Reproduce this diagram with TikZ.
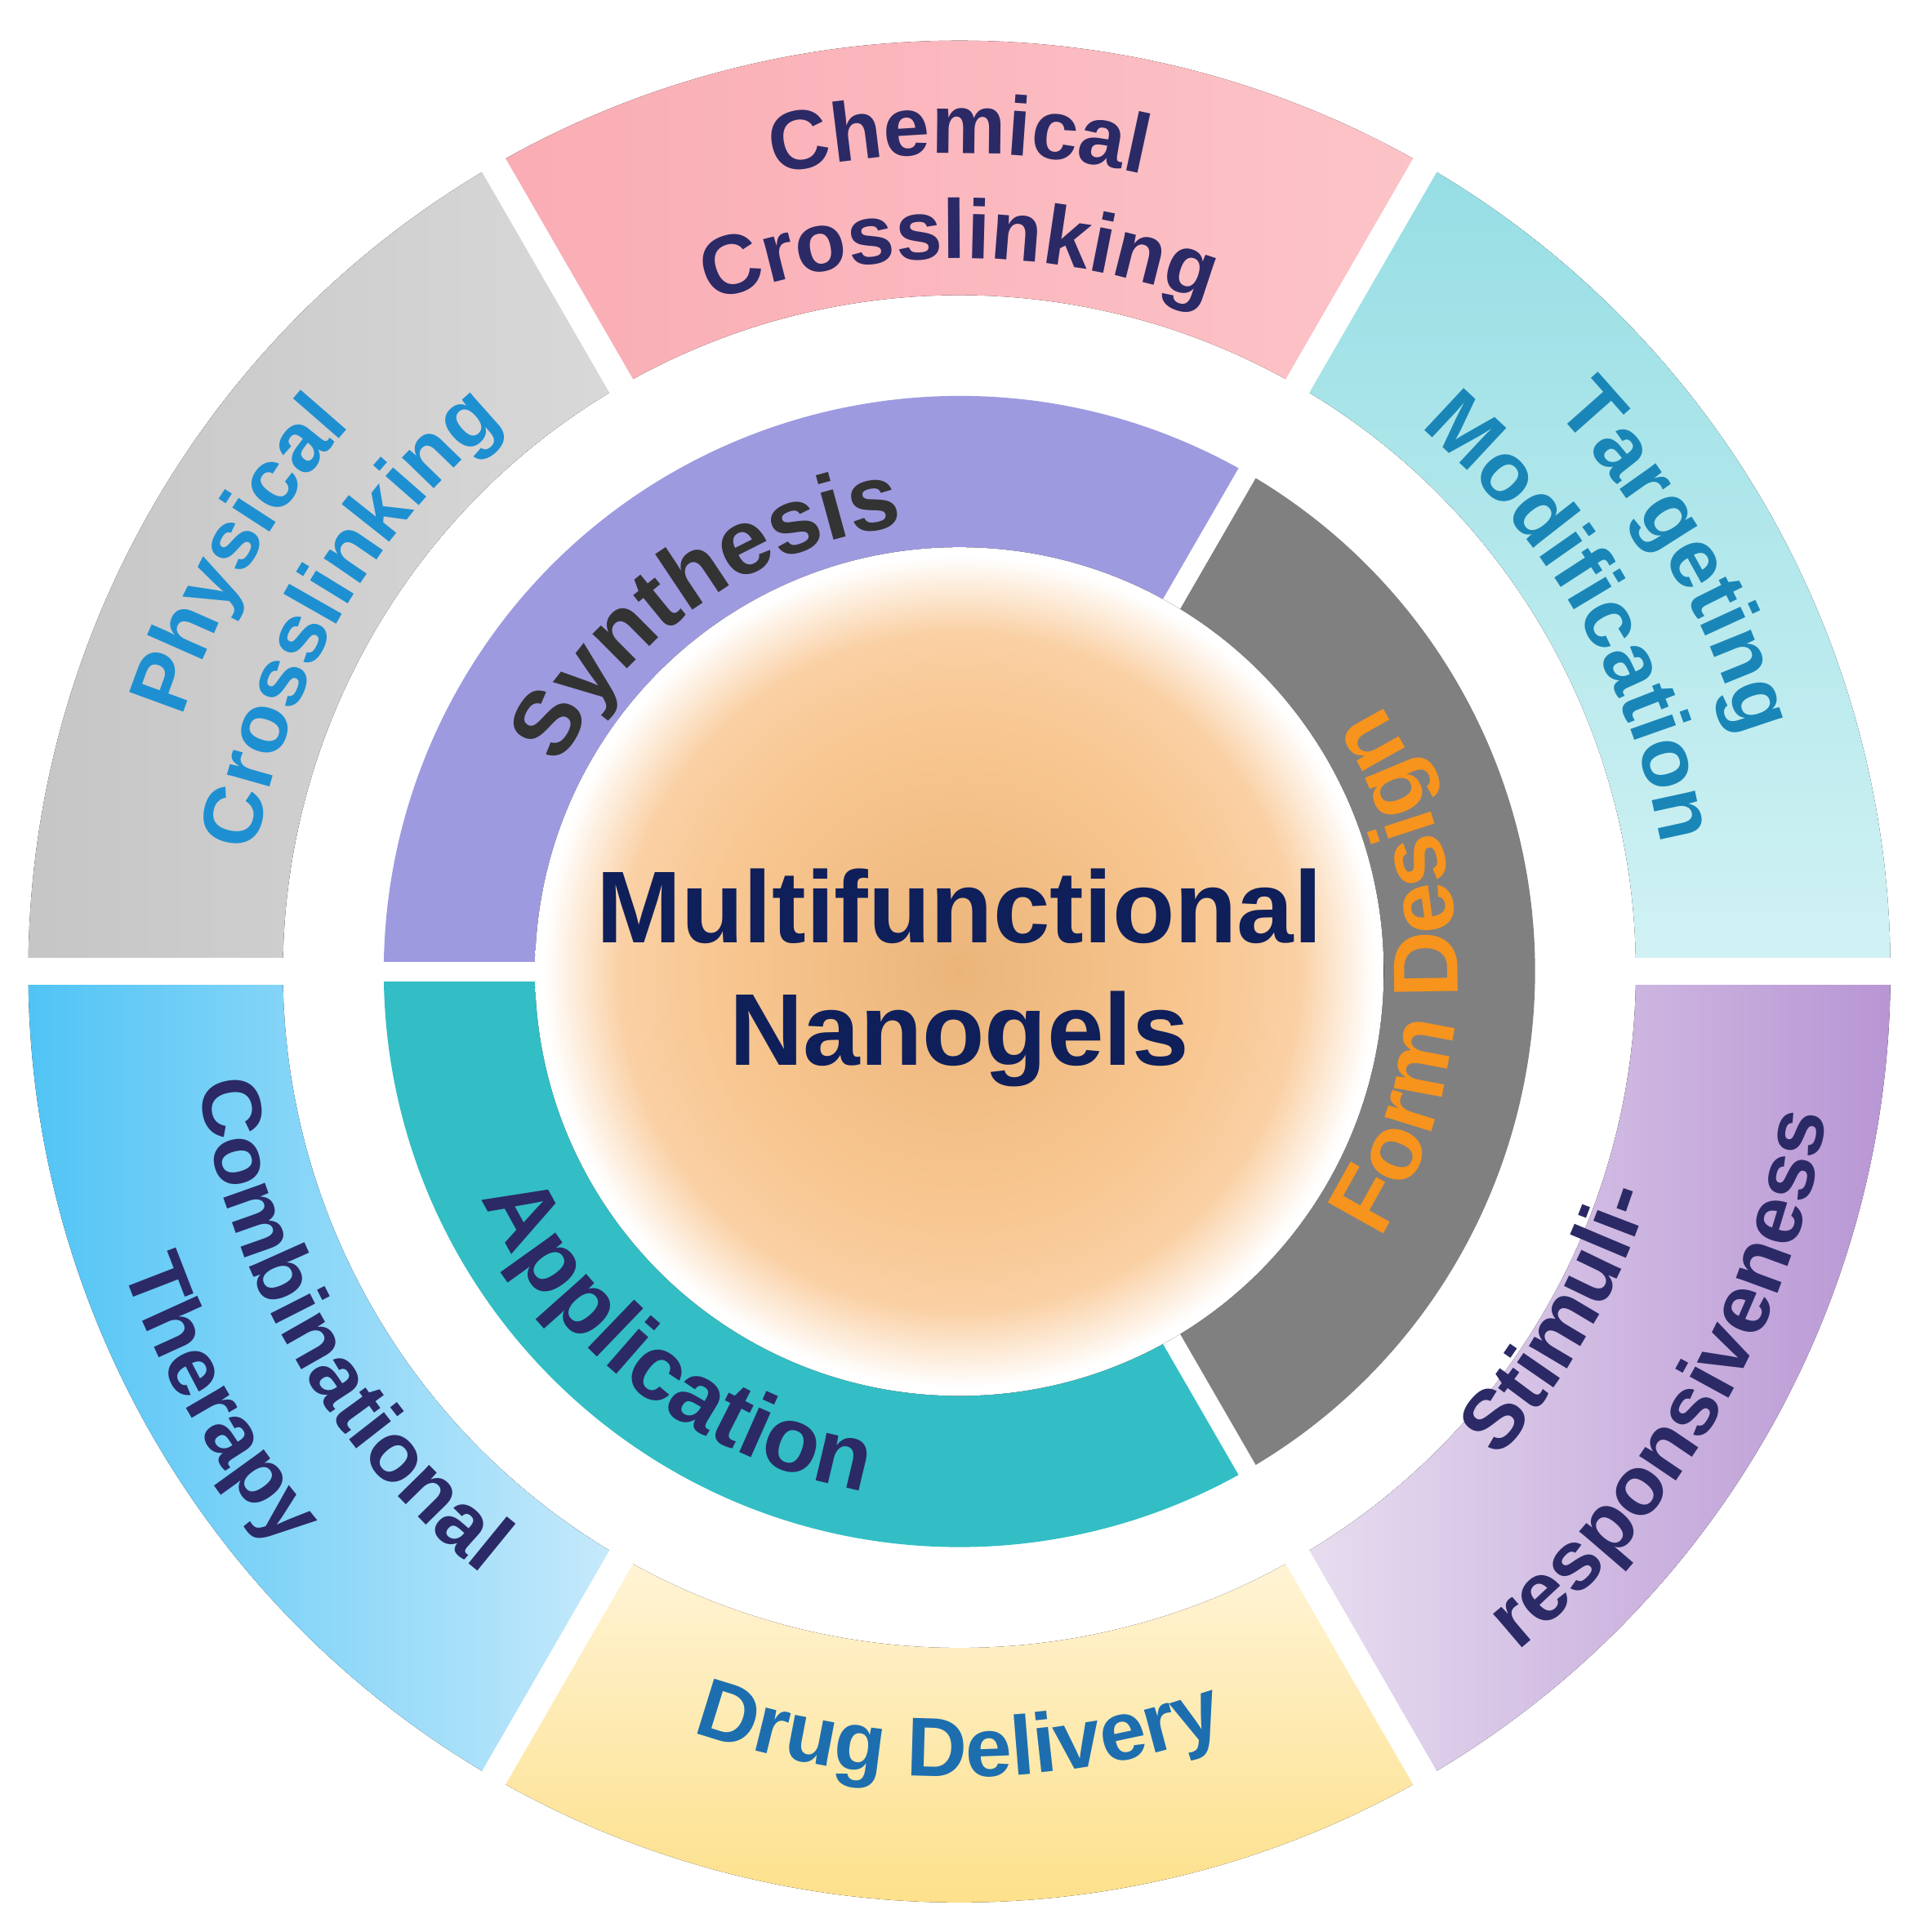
\documentclass[tikz,border=0pt]{standalone}
\usepackage{fontspec}
\setmainfont{Liberation Sans}
\usetikzlibrary{decorations.text}
\definecolor{navy}{HTML}{2B2A66}
\definecolor{pblue}{HTML}{1E90D2}
\definecolor{tblue}{HTML}{1A86B8}
\definecolor{dblue}{HTML}{1D6EAF}
\definecolor{ctext}{HTML}{0F1F5A}
\definecolor{orangeT}{HTML}{F7941D}
\definecolor{o1}{HTML}{EBB57A}
\definecolor{o2}{HTML}{F8C690}
\definecolor{o3}{HTML}{FAD0A4}
\pgfdeclareradialshading{ctr}{\pgfpoint{0bp}{0bp}}{color(0bp)=(o1); color(14bp)=(o2); color(20bp)=(o3); color(24.5bp)=(white); color(50bp)=(white)}
\newcommand\ringseg[4]{(#1:#3) arc[start angle=#1,end angle=#2,radius=#3] -- (#2:#4) arc[start angle=#2,end angle=#1,radius=#4] -- cycle}
\tikzset{
 cwlab/.style n args={4}{decorate,decoration={text along path,text align=center,
   text={|\bfseries\fontsize{#3}{#3}\selectfont\color{#4}|#2}}},
 gapO/.style={white,line width=22pt},
 gapI/.style={white,line width=16pt}
}
\begin{document}
\begin{tikzpicture}[x=1pt,y=1pt]
\useasboundingbox[fill=white] (-780,-781) rectangle (788,790);
% outer ring
\fill[left color=gray!45,right color=gray!30] \ringseg{120}{180}{757}{550};
\fill[left color={rgb,255:red,250;green,172;blue,180},right color={rgb,255:red,252;green,196;blue,200}] \ringseg{60}{120}{757}{550};
\fill[top color={rgb,255:red,150;green,222;blue,228},bottom color={rgb,255:red,210;green,242;blue,244}] \ringseg{0}{60}{757}{550};
\fill[left color={rgb,255:red,232;green,222;blue,240},right color={rgb,255:red,184;green,150;blue,212}] \ringseg{300}{360}{757}{550};
\fill[top color={rgb,255:red,255;green,244;blue,214},bottom color={rgb,255:red,253;green,222;blue,130}] \ringseg{240}{300}{757}{550};
\fill[left color={rgb,255:red,80;green,196;blue,245},right color={rgb,255:red,200;green,234;blue,251}] \ringseg{180}{240}{757}{550};
\foreach \a in {0,60,120,180,240,300} \draw[gapO] (\a:530) -- (\a:775);
% inner ring
\fill[color={rgb,255:red,158;green,154;blue,224}] \ringseg{60}{180}{468}{340};
\fill[color={rgb,255:red,128;green,128;blue,128}] \ringseg{-60}{60}{468}{340};
\fill[color={rgb,255:red,50;green,190;blue,196}] \ringseg{180}{300}{468}{340};
\foreach \a in {60,180,300} \draw[gapI] (\a:330) -- (\a:480);
% center
\fill[shading=ctr] (0,0) circle[radius=345];
\node[font=\bfseries\fontsize{83}{100}\selectfont,text=ctext,align=center] (title) at (0,-5) {Multifunctional\\Nanogels};
% outer labels (clockwise arcs: text outside)
\path[cwlab={}{Chemical}{68}{navy}] (125:665) arc[start angle=125,end angle=55,radius=665];
\path[cwlab={}{Crosslinking}{68}{navy}] (125:580) arc[start angle=125,end angle=55,radius=580];
\path[cwlab={}{Physical}{68}{pblue}] (185:665) arc[start angle=185,end angle=115,radius=665];
\path[cwlab={}{Crosslinking}{68}{pblue}] (185:580) arc[start angle=185,end angle=115,radius=580];
\path[cwlab={}{Targeting}{68}{tblue}] (65:665) arc[start angle=65,end angle=-5,radius=665];
\path[cwlab={}{Modification}{68}{tblue}] (65:580) arc[start angle=65,end angle=-5,radius=580];
% ccw arcs: text inside
\path[cwlab={}{Drug Delivery}{68}{dblue}] (235:655) arc[start angle=235,end angle=305,radius=655];
\path[cwlab={}{Stimuli-}{68}{navy}] (295:590) arc[start angle=295,end angle=365,radius=590];
\path[cwlab={}{responsiveness}{68}{navy}] (295:715) arc[start angle=295,end angle=365,radius=715];
\path[cwlab={}{Combinational}{68}{navy}] (175:625) arc[start angle=175,end angle=245,radius=625];
\path[cwlab={}{Therapy}{68}{navy}] (175:722) arc[start angle=175,end angle=245,radius=722];
% inner labels
\path[cwlab={}{Synthesis}{75}{black!80}] (175:365) arc[start angle=175,end angle=75,radius=365];
\path[cwlab={}{Form Design}{75}{orangeT}] (-50:405) arc[start angle=-50,end angle=50,radius=405];
\path[cwlab={}{Application}{75}{navy}] (185:430) arc[start angle=185,end angle=280,radius=430];
\end{tikzpicture}
\end{document}
